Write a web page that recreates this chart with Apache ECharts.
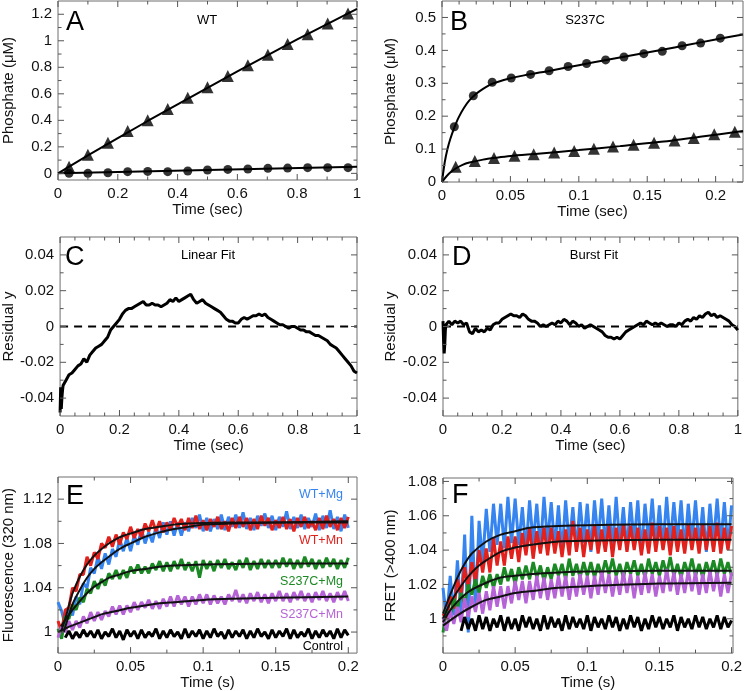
<!DOCTYPE html>
<html>
<head>
<meta charset="utf-8">
<title>Phosphate release, residuals and stopped-flow traces</title>
<script src="https://cdn.jsdelivr.net/npm/echarts@6.0.0/dist/echarts.min.js"></script>
<style>
    html, body { margin: 0; padding: 0; background: #fff; }
    #chart { width: 745px; height: 691px; }
</style>
</head>
<body>
<div id="chart"></div>
<script type="text/javascript">
    // ---------- A : WT phosphate ----------
    var aTime     = [0.037,0.1,0.167,0.233,0.3,0.367,0.434,0.5,0.568,0.635,0.702,0.768,0.835,0.902,0.97];
    var aTriangle = [0.05,0.14,0.23,0.32,0.40,0.485,0.57,0.65,0.735,0.815,0.895,0.975,1.05,1.13,1.205];
    var aCircle   = [0,0,0.005,0.013,0.015,0.013,0.018,0.025,0.03,0.033,0.038,0.04,0.043,0.043,0.043];
    var aTriFitT  = [0,0.04,0.1,0.2,0.3,0.4,0.5,0.6,0.7,0.8,0.9,1];
    var aTriFitY  = [0,0.055,0.135,0.265,0.395,0.52,0.645,0.77,0.89,1.01,1.125,1.24];
    var aCirFitT  = [0,0.04,0.2,0.5,1];
    var aCirFitY  = [0,0.003,0.01,0.025,0.05];

    // ---------- B : S237C phosphate ----------
    var bCirTime = [0.009,0.0229,0.0367,0.0506,0.0647,0.0783,0.0922,0.1057,0.1196,0.133,0.1475,0.161,0.1755,0.189,0.2034];
    var bCircle  = [0.168,0.262,0.303,0.316,0.327,0.338,0.351,0.36,0.371,0.38,0.39,0.397,0.414,0.422,0.437];
    var bTriTime = [0.01,0.024,0.038,0.053,0.067,0.082,0.0966,0.111,0.125,0.14,0.155,0.17,0.184,0.199,0.214];
    var bTriangle= [0.046,0.064,0.073,0.08,0.084,0.09,0.094,0.101,0.108,0.113,0.119,0.126,0.134,0.145,0.153];
    var bCirFitT = [0,0.002,0.004,0.006,0.009,0.012,0.016,0.02,0.025,0.03,0.035,0.04,0.05,0.06,0.08,0.1,0.12,0.14,0.16,0.18,0.2,0.22];
    var bCirFitY = [0,0.06,0.1,0.13,0.165,0.195,0.225,0.248,0.268,0.283,0.295,0.303,0.315,0.324,0.339,0.355,0.371,0.386,0.401,0.417,0.433,0.448];
    var bTriFitT = [0,0.003,0.006,0.01,0.015,0.02,0.03,0.04,0.05,0.07,0.1,0.13,0.16,0.19,0.22];
    var bTriFitY = [0,0.016,0.029,0.041,0.052,0.059,0.068,0.074,0.079,0.086,0.097,0.109,0.122,0.138,0.155];

    // ---------- C / D : residuals ----------
    var resTime = [0,0.002,0.004,0.006,0.008,
        0.01,0.02,0.03,0.04,0.05,0.06,0.07,0.08,0.09,0.1,
        0.11,0.12,0.13,0.14,0.15,0.16,0.17,0.18,0.19,0.2,
        0.21,0.22,0.23,0.24,0.25,0.26,0.27,0.28,0.29,0.3,
        0.31,0.32,0.33,0.34,0.35,0.36,0.37,0.38,0.39,0.4,
        0.41,0.42,0.43,0.44,0.45,0.46,0.47,0.48,0.49,0.5,
        0.51,0.52,0.53,0.54,0.55,0.56,0.57,0.58,0.59,0.6,
        0.61,0.62,0.63,0.64,0.65,0.66,0.67,0.68,0.69,0.7,
        0.71,0.72,0.73,0.74,0.75,0.76,0.77,0.78,0.79,0.8,
        0.81,0.82,0.83,0.84,0.85,0.86,0.87,0.88,0.89,0.9,
        0.91,0.92,0.93,0.94,0.95,0.96,0.97,0.98,0.99,1];
    var linearResidual = [-0.048,-0.034,-0.046,-0.040,-0.036,
        -0.033,-0.030,-0.027,-0.026,-0.024,-0.022,-0.021,-0.018,-0.020,-0.016,
        -0.014,-0.012,-0.011,-0.010,-0.008,-0.006,-0.002,0.000,0.002,0.004,
        0.007,0.009,0.010,0.010,0.011,0.012,0.013,0.014,0.012,0.012,
        0.013,0.012,0.012,0.011,0.012,0.013,0.015,0.014,0.016,0.014,
        0.015,0.016,0.017,0.018,0.015,0.013,0.014,0.015,0.013,0.012,
        0.011,0.010,0.009,0.008,0.006,0.004,0.003,0.003,0.002,0.002,
        0.004,0.005,0.004,0.005,0.006,0.006,0.007,0.006,0.007,0.005,
        0.004,0.003,0.002,0.001,0.001,0.000,-0.001,0.000,0.000,-0.001,
        -0.002,-0.002,-0.003,-0.003,-0.004,-0.005,-0.005,-0.006,-0.007,-0.008,
        -0.010,-0.011,-0.012,-0.014,-0.016,-0.018,-0.020,-0.022,-0.025,-0.026];
    var burstResidual = [0.003,-0.008,-0.015,-0.010,-0.002,
        0.001,0.003,0.001,0.003,0.002,0.003,0.001,0.002,-0.003,-0.004,
        -0.001,-0.003,-0.002,-0.003,-0.001,-0.002,0.001,0.002,0.002,0.004,
        0.005,0.006,0.007,0.006,0.006,0.005,0.007,0.006,0.004,0.003,
        0.003,0.002,0.000,0.001,0.000,0.001,0.002,0.001,0.003,0.002,
        0.004,0.003,0.001,0.003,0.002,0.000,0.001,-0.001,0.000,0.001,
        0.000,-0.001,-0.002,-0.003,-0.005,-0.006,-0.006,-0.007,-0.006,-0.007,
        -0.005,-0.003,-0.002,-0.001,0.000,0.001,0.002,0.001,0.003,0.002,
        0.001,0.002,0.001,0.002,0.001,0.000,0.001,0.001,0.000,0.002,
        0.001,0.003,0.004,0.003,0.005,0.004,0.006,0.005,0.007,0.008,
        0.006,0.007,0.005,0.006,0.005,0.004,0.003,0.001,0.000,-0.002];
    var zeroLineT = [0, 1];
    var zeroLineY = [0, 0];

    // ---------- E / F : stopped-flow traces ----------
    var traceTime = [0,0.0025,0.005,0.0075,0.01,0.0125,0.015,0.0175,0.02,0.0225,
        0.025,0.0275,0.03,0.0325,0.035,0.0375,0.04,0.0425,0.045,0.0475,
        0.05,0.0525,0.055,0.0575,0.06,0.0625,0.065,0.0675,0.07,0.0725,
        0.075,0.0775,0.08,0.0825,0.085,0.0875,0.09,0.0925,0.095,0.0975,
        0.1,0.1025,0.105,0.1075,0.11,0.1125,0.115,0.1175,0.12,0.1225,
        0.125,0.1275,0.13,0.1325,0.135,0.1375,0.14,0.1425,0.145,0.1475,
        0.15,0.1525,0.155,0.1575,0.16,0.1625,0.165,0.1675,0.17,0.1725,
        0.175,0.1775,0.18,0.1825,0.185,0.1875,0.19,0.1925,0.195,0.1975,
        0.2];

    var eWtMg = [1.027,1.019,1.006,1.022,1.015,1.032,1.025,1.044,1.040,1.058,
        1.053,1.068,1.057,1.071,1.061,1.075,1.068,1.084,1.073,1.085,
        1.073,1.087,1.079,1.093,1.080,1.090,1.081,1.095,1.085,1.099,
        1.088,1.100,1.087,1.099,1.087,1.099,1.091,1.103,1.094,1.106,
        1.091,1.103,1.091,1.102,1.093,1.106,1.092,1.104,1.095,1.106,
        1.094,1.108,1.093,1.103,1.092,1.105,1.096,1.107,1.094,1.105,
        1.092,1.104,1.095,1.109,1.093,1.104,1.094,1.106,1.093,1.103,
        1.095,1.107,1.092,1.105,1.094,1.110,1.093,1.104,1.091,1.106,
        1.094];
    var eWtMn = [1.010,1.001,1.020,1.022,1.040,1.037,1.052,1.052,1.068,1.060,
        1.072,1.066,1.080,1.076,1.086,1.077,1.088,1.079,1.090,1.084,
        1.095,1.085,1.093,1.086,1.098,1.091,1.101,1.091,1.100,1.090,
        1.099,1.092,1.103,1.095,1.102,1.092,1.103,1.094,1.105,1.093,
        1.101,1.092,1.102,1.095,1.104,1.093,1.100,1.091,1.103,1.094,
        1.104,1.095,1.103,1.092,1.102,1.093,1.105,1.096,1.103,1.092,
        1.101,1.094,1.104,1.093,1.102,1.091,1.103,1.095,1.104,1.094,
        1.100,1.092,1.103,1.093,1.105,1.095,1.102,1.092,1.103,1.094,
        1.104];
    var eS237CMg = [1.003,0.994,1.014,1.012,1.025,1.020,1.031,1.027,1.039,1.035,
        1.046,1.039,1.048,1.042,1.053,1.048,1.056,1.048,1.056,1.049,
        1.059,1.053,1.061,1.053,1.059,1.053,1.062,1.056,1.064,1.055,
        1.063,1.055,1.064,1.057,1.066,1.056,1.063,1.055,1.064,1.049,
        1.065,1.057,1.064,1.055,1.065,1.058,1.066,1.057,1.063,1.056,
        1.065,1.058,1.067,1.056,1.064,1.057,1.066,1.058,1.065,1.058,
        1.065,1.058,1.067,1.059,1.066,1.057,1.065,1.058,1.068,1.059,
        1.066,1.057,1.065,1.058,1.067,1.059,1.066,1.057,1.065,1.058,
        1.067];
    var eS237CMn = [0.995,1.005,1.000,1.010,1.002,1.010,1.004,1.014,1.008,1.018,
        1.010,1.018,1.011,1.019,1.014,1.023,1.016,1.024,1.016,1.024,
        1.018,1.027,1.020,1.027,1.022,1.029,1.021,1.028,1.021,1.030,
        1.023,1.032,1.023,1.033,1.025,1.032,1.023,1.032,1.025,1.034,
        1.026,1.034,1.025,1.033,1.026,1.032,1.025,1.034,1.028,1.038,
        1.027,1.034,1.026,1.035,1.028,1.036,1.027,1.034,1.026,1.035,
        1.028,1.037,1.028,1.035,1.027,1.036,1.029,1.037,1.028,1.035,
        1.027,1.036,1.029,1.037,1.028,1.035,1.027,1.036,1.029,1.037,
        1.028];
    var eControl = [null,null,0.995,1.001,0.994,1.000,0.995,1.002,0.996,1.001,
        0.995,1.002,0.994,1.000,0.996,1.003,0.995,1.001,0.993,1.002,
        0.996,1.001,0.994,1.002,0.995,1.000,0.996,1.003,0.994,1.001,
        0.995,1.002,0.996,1.000,0.994,1.003,0.995,1.001,0.996,1.002,
        0.994,1.001,0.995,1.003,0.996,1.000,0.994,1.002,0.995,1.001,
        0.996,1.002,0.994,1.001,0.995,1.003,0.996,1.000,0.994,1.002,
        0.995,1.001,0.996,1.003,0.994,1.002,0.995,1.000,0.996,1.003,
        0.994,1.001,0.995,1.002,0.996,1.001,0.994,1.003,0.995,1.002,
        0.997];

    var fWtMg = [1.018,1.000,1.025,1.002,1.034,1.003,1.049,0.992,1.060,1.005,
        1.057,1.033,1.064,1.039,1.067,1.043,1.067,1.041,1.071,1.044,
        1.070,1.043,1.065,1.039,1.069,1.044,1.067,1.040,1.071,1.045,
        1.068,1.041,1.066,1.038,1.069,1.043,1.065,1.040,1.068,1.044,
        1.067,1.039,1.069,1.045,1.070,1.042,1.066,1.041,1.071,1.043,
        1.065,1.040,1.068,1.044,1.069,1.039,1.067,1.045,1.070,1.042,
        1.066,1.041,1.071,1.043,1.068,1.045,1.069,1.040,1.067,1.044,
        1.069,1.042,1.065,1.039,1.067,1.044,1.070,1.043,1.068,1.041,
        1.066];
    var fWtMn = [1.003,1.000,1.013,1.006,1.023,1.014,1.030,1.018,1.033,1.021,
        1.040,1.027,1.041,1.027,1.047,1.031,1.045,1.031,1.048,1.035,
        1.048,1.033,1.050,1.037,1.053,1.035,1.051,1.038,1.053,1.037,
        1.053,1.038,1.051,1.036,1.052,1.037,1.057,1.039,1.053,1.036,
        1.052,1.040,1.055,1.038,1.052,1.039,1.054,1.036,1.053,1.040,
        1.055,1.039,1.054,1.040,1.053,1.037,1.052,1.038,1.056,1.039,
        1.054,1.040,1.053,1.037,1.054,1.039,1.052,1.038,1.055,1.040,
        1.053,1.038,1.055,1.040,1.054,1.039,1.056,1.038,1.053,1.040,
        1.054];
    var fS237CMg = [0.992,1.005,1.001,1.012,1.006,1.015,1.009,1.020,1.014,1.023,
        1.015,1.025,1.018,1.026,1.018,1.026,1.020,1.030,1.022,1.029,
        1.020,1.030,1.023,1.031,1.023,1.033,1.024,1.031,1.022,1.030,
        1.023,1.032,1.025,1.032,1.023,1.035,1.025,1.032,1.024,1.033,
        1.025,1.033,1.024,1.032,1.025,1.034,1.026,1.035,1.025,1.032,
        1.024,1.033,1.026,1.034,1.025,1.032,1.024,1.035,1.026,1.033,
        1.025,1.034,1.026,1.036,1.025,1.032,1.024,1.033,1.026,1.035,
        1.025,1.032,1.024,1.033,1.026,1.034,1.025,1.035,1.026,1.033,
        1.025];
    var fS237CMn = [1.001,0.993,1.005,0.997,1.007,0.998,1.012,1.001,1.013,1.004,
        1.015,1.003,1.016,1.005,1.019,1.007,1.019,1.006,1.019,1.009,
        1.022,1.011,1.022,1.009,1.022,1.011,1.025,1.012,1.024,1.011,
        1.023,1.012,1.025,1.013,1.025,1.011,1.024,1.013,1.026,1.014,
        1.025,1.012,1.025,1.014,1.028,1.015,1.026,1.013,1.025,1.014,
        1.027,1.015,1.026,1.012,1.025,1.014,1.027,1.015,1.026,1.013,
        1.025,1.015,1.029,1.016,1.027,1.014,1.026,1.015,1.028,1.016,
        1.027,1.014,1.026,1.015,1.028,1.016,1.027,1.013,1.026,1.015,
        1.027];
    var fControl = [null,null,null,null,null,0.993,1.001,0.994,1.000,0.993,
        1.002,0.994,1.001,0.993,1.000,0.995,1.002,0.993,1.001,0.994,
        1.000,0.993,1.002,0.995,1.001,0.994,1.000,0.993,1.002,0.994,
        1.001,0.995,1.000,0.993,1.002,0.994,1.001,0.995,1.000,0.994,
        1.002,0.993,1.001,0.995,1.000,0.994,1.002,0.995,1.001,0.993,
        1.000,0.994,1.002,0.995,1.001,0.993,1.000,0.994,1.002,0.995,
        1.001,0.994,1.000,0.995,1.002,0.993,1.001,0.995,1.000,0.994,
        1.002,0.995,1.001,0.994,1.000,0.995,1.002,0.994,1.001,0.995,
        0.999];

    // fitted curves, [time, value]
    var eFitWtMg    = [[0.004,1.0],[0.01,1.025],[0.015,1.038],[0.02,1.049],[0.025,1.057],[0.03,1.063],[0.035,1.068],[0.04,1.073],[0.045,1.077],[0.05,1.08],[0.06,1.086],[0.07,1.09],[0.08,1.093],[0.09,1.095],[0.1,1.097],[0.12,1.098],[0.15,1.099],[0.2,1.1]];
    var eFitWtMn    = [[0.002,1.0],[0.005,1.012],[0.0075,1.024],[0.01,1.035],[0.015,1.05],[0.02,1.061],[0.025,1.069],[0.03,1.075],[0.035,1.08],[0.04,1.084],[0.045,1.087],[0.05,1.089],[0.06,1.093],[0.07,1.095],[0.08,1.097],[0.09,1.098],[0.1,1.0985],[0.12,1.099],[0.15,1.099],[0.2,1.099]];
    var eFitS237CMg = [[0.002,1.005],[0.005,1.011],[0.01,1.02],[0.015,1.028],[0.02,1.035],[0.025,1.041],[0.03,1.045],[0.035,1.049],[0.04,1.051],[0.05,1.055],[0.06,1.057],[0.07,1.059],[0.08,1.06],[0.1,1.061],[0.15,1.062],[0.2,1.062]];
    var eFitS237CMn = [[0,1.0],[0.01,1.006],[0.02,1.011],[0.03,1.016],[0.04,1.019],[0.05,1.022],[0.06,1.024],[0.07,1.026],[0.08,1.027],[0.1,1.029],[0.12,1.03],[0.15,1.031],[0.2,1.032]];
    var fFitWtMg    = [[0,1.003],[0.005,1.014],[0.01,1.024],[0.015,1.032],[0.02,1.038],[0.03,1.045],[0.04,1.049],[0.05,1.051],[0.06,1.053],[0.08,1.054],[0.1,1.0545],[0.15,1.055],[0.2,1.055]];
    var fFitWtMn    = [[0,1.0],[0.005,1.009],[0.01,1.016],[0.015,1.022],[0.02,1.027],[0.025,1.031],[0.03,1.034],[0.04,1.039],[0.05,1.0415],[0.06,1.043],[0.08,1.045],[0.1,1.0455],[0.15,1.046],[0.2,1.046]];
    var fFitS237CMg = [[0,0.998],[0.005,1.005],[0.01,1.01],[0.015,1.014],[0.02,1.017],[0.03,1.021],[0.04,1.024],[0.05,1.025],[0.06,1.026],[0.08,1.027],[0.1,1.0275],[0.15,1.028],[0.2,1.028]];
    var fFitS237CMn = [[0,0.996],[0.01,1.002],[0.02,1.007],[0.03,1.011],[0.04,1.013],[0.05,1.015],[0.06,1.016],[0.08,1.018],[0.1,1.019],[0.15,1.0205],[0.2,1.021]];

    // tick positions
    var ticksA = { xMajor: [0,0.2,0.4,0.6,0.8,1], xMinor: [0.1,0.3,0.5,0.7,0.9],
                   yMajor: [0,0.2,0.4,0.6,0.8,1,1.2], yMinor: [0.1,0.3,0.5,0.7,0.9,1.1] };
    var ticksB = { xMajor: [0,0.05,0.1,0.15,0.2], xMinor: [0.0125,0.025,0.0375,0.0625,0.075,0.0875,0.1125,0.125,0.1375,0.1625,0.175,0.1875,0.2125],
                   yMajor: [0,0.1,0.2,0.3,0.4,0.5], yMinor: [0.05,0.15,0.25,0.35,0.45] };
    var ticksRes = { xMajor: [0,0.2,0.4,0.6,0.8,1], xMinor: [0.05,0.1,0.15,0.25,0.3,0.35,0.45,0.5,0.55,0.65,0.7,0.75,0.85,0.9,0.95],
                     yMajor: [-0.04,-0.02,0,0.02,0.04], yMinor: [-0.03,-0.01,0.01,0.03] };
    var ticksE = { xMajor: [0,0.05,0.1,0.15,0.2], xMinor: [0.025,0.075,0.125,0.175],
                   yMajor: [1,1.04,1.08,1.12], yMinor: [1.02,1.06,1.1] };
    var ticksF = { xMajor: [0,0.05,0.1,0.15,0.2], xMinor: [0.025,0.075,0.125,0.175],
                   yMajor: [1,1.02,1.04,1.06,1.08], yMinor: [0.99,1.01,1.03,1.05,1.07] };

    var colWtMg = '#3584f0', colWtMn = '#e2211c', colMg = '#1c8a24', colMn = '#b563d6';

    var FONT = "'Liberation Sans', Arial, Helvetica, sans-serif";
    var FRAME = '#6e6e6e';
    var TICK = '#555';
    var grids = [], xAxes = [], yAxes = [], series = [];

    function pairs(xs, ys) {
        var out = [];
        for (var i = 0; i < xs.length; i++) {
            if (ys[i] !== null && ys[i] !== undefined) out.push([xs[i], ys[i]]);
        }
        return out;
    }
    function fmt(v) { return String(parseFloat(Number(v).toFixed(4))); }

    function mainAxis(g, pos, range, major, name, gap) {
        return {
            type: 'value', gridIndex: g, position: pos, min: range[0], max: range[1],
            axisLine: { show: false, onZero: false },
            axisTick: { show: false },
            axisLabel: { show: true, customValues: major.slice(), formatter: fmt, margin: 6,
                         fontSize: 15, color: '#111', fontFamily: FONT },
            splitLine: { show: false },
            name: name, nameLocation: 'middle', nameGap: gap,
            nameTextStyle: { fontSize: 15, color: '#111', fontFamily: FONT }
        };
    }

    // inward tick marks on all four sides, placed through the axes' own scales
    function tickSeries(p, xr, yr, ticks) {
        var data = [];
        ticks.xMajor.forEach(function (v) { data.push([0, v, 6]); });
        ticks.xMinor.forEach(function (v) { data.push([0, v, 3.5]); });
        ticks.yMajor.forEach(function (v) { data.push([1, v, 6]); });
        ticks.yMinor.forEach(function (v) { data.push([1, v, 3.5]); });
        series.push({
            type: 'custom', xAxisIndex: p.x, yAxisIndex: p.y, data: data,
            silent: true, clip: false, z: 4,
            renderItem: function (params, api) {
                var kind = api.value(0), v = api.value(1), len = api.value(2);
                var cs = params.coordSys;
                var st = { stroke: TICK, lineWidth: 1 };
                if (kind === 0) {
                    var x = api.coord([v, yr[0]])[0];
                    return { type: 'group', children: [
                        { type: 'line', shape: { x1: x, y1: cs.y + cs.height, x2: x, y2: cs.y + cs.height - len }, style: st },
                        { type: 'line', shape: { x1: x, y1: cs.y, x2: x, y2: cs.y + len }, style: st }
                    ] };
                }
                var y = api.coord([xr[0], v])[1];
                return { type: 'group', children: [
                    { type: 'line', shape: { x1: cs.x, y1: y, x2: cs.x + len, y2: y }, style: st },
                    { type: 'line', shape: { x1: cs.x + cs.width, y1: y, x2: cs.x + cs.width - len, y2: y }, style: st }
                ] };
            }
        });
    }

    function addPanel(box, xr, yr, ticks, xName, yName, yGap) {
        var g = grids.length;
        grids.push({ left: box[0], top: box[1], width: box[2], height: box[3],
                     show: true, borderColor: FRAME, borderWidth: 1, backgroundColor: 'rgba(0,0,0,0)' });
        xAxes.push(mainAxis(g, 'bottom', xr, ticks.xMajor, xName, 20));
        yAxes.push(mainAxis(g, 'left', yr, ticks.yMajor, yName, yGap));
        var p = { x: xAxes.length - 1, y: yAxes.length - 1 };
        tickSeries(p, xr, yr, ticks);
        return p;
    }
    function line(p, data, color, width, extra) {
        var s = { type: 'line', xAxisIndex: p.x, yAxisIndex: p.y, data: data, showSymbol: false,
                  silent: true, lineStyle: { color: color, width: width } };
        for (var k in extra) s[k] = extra[k];
        series.push(s);
    }
    function dots(p, data, symbol, size) {
        series.push({ type: 'scatter', xAxisIndex: p.x, yAxisIndex: p.y, data: data, symbol: symbol,
                      symbolSize: size, silent: true, itemStyle: { color: '#000' } });
    }

    // panels
    var pA = addPanel([57, 1, 300, 179], [0, 1], [-0.05, 1.3], ticksA, 'Time (sec)', 'Phosphate (\u03bcM)', 42);
    var pB = addPanel([442, 1, 301, 181], [0, 0.22], [0, 0.55], ticksB, 'Time (sec)', 'Phosphate (\u03bcM)', 44);
    var pC = addPanel([57, 237, 300, 179], [0, 1], [-0.05, 0.05], ticksRes, 'Time (sec)', 'Residual y', 42);
    var pD = addPanel([443, 237, 301, 179], [0, 1], [-0.05, 0.05], ticksRes, 'Time (sec)', 'Residual y', 45);
    var pE = addPanel([57, 477, 300, 178], [0, 0.206], [0.981, 1.14], ticksE, 'Time (s)', 'Fluorescence (320 nm)', 42);
    var pF = addPanel([443, 478, 291, 178], [0, 0.201], [0.98, 1.082], ticksF, 'Time (s)', 'FRET (>400 nm)', 45);

    // A
    line(pA, pairs(aTriFitT, aTriFitY), '#000', 2);
    line(pA, pairs(aCirFitT, aCirFitY), '#000', 2);
    dots(pA, pairs(aTime, aTriangle), 'triangle', 12);
    dots(pA, pairs(aTime, aCircle), 'circle', 9);
    // B
    line(pB, pairs(bCirFitT, bCirFitY), '#000', 2, { smooth: 0.3 });
    line(pB, pairs(bTriFitT, bTriFitY), '#000', 2, { smooth: 0.3 });
    dots(pB, pairs(bTriTime, bTriangle), 'triangle', 12);
    dots(pB, pairs(bCirTime, bCircle), 'circle', 9);
    // C, D
    line(pC, pairs(zeroLineT, zeroLineY), '#000', 2, { lineStyle: { color: '#000', width: 2, type: [8, 6] } });
    line(pC, pairs(resTime, linearResidual), '#000', 3);
    line(pD, pairs(zeroLineT, zeroLineY), '#000', 2, { lineStyle: { color: '#000', width: 2, type: [8, 6] } });
    line(pD, pairs(resTime, burstResidual), '#000', 3);
    // E
    var TW = 3;
    line(pE, pairs(traceTime, eWtMg), colWtMg, TW);
    line(pE, pairs(traceTime, eWtMn), colWtMn, TW);
    line(pE, pairs(traceTime, eS237CMg), colMg, TW);
    line(pE, pairs(traceTime, eS237CMn), colMn, TW);
    line(pE, pairs(traceTime, eControl), '#000', TW);
    [eFitWtMg, eFitWtMn, eFitS237CMg, eFitS237CMn].forEach(function (d) {
        line(pE, d, '#111', 2, { smooth: 0.3 });
    });
    // F
    line(pF, pairs(traceTime, fWtMg), colWtMg, TW);
    line(pF, pairs(traceTime, fWtMn), colWtMn, TW);
    line(pF, pairs(traceTime, fS237CMg), colMg, TW);
    line(pF, pairs(traceTime, fS237CMn), colMn, TW);
    line(pF, pairs(traceTime, fControl), '#000', TW);
    [fFitWtMg, fFitWtMn, fFitS237CMg, fFitS237CMn].forEach(function (d) {
        line(pF, d, '#111', 2, { smooth: 0.3 });
    });

    function txt(s, x, y, size, align, color) {
        return { type: 'text', x: x, y: y, silent: true, z: 100,
                 style: { text: s, fontSize: size, fontFamily: FONT, fill: color || '#000',
                          align: align || 'left', verticalAlign: 'middle' } };
    }
    var labels = [
        txt('A', 66, 23, 27), txt('B', 450, 23, 27), txt('C', 65, 258, 27),
        txt('D', 452, 258, 27), txt('E', 66, 497, 27), txt('F', 452, 496, 27),
        txt('WT', 207, 20, 13, 'center'), txt('S237C', 585, 20, 13, 'center'),
        txt('Linear Fit', 208, 255, 13, 'center'), txt('Burst Fit', 594, 255, 13, 'center'),
        txt('WT+Mg', 343, 495, 12.5, 'right', colWtMg), txt('WT+Mn', 343, 541, 12.5, 'right', colWtMn),
        txt('S237C+Mg', 343, 582, 12.5, 'right', colMg), txt('S237C+Mn', 343, 615, 12.5, 'right', colMn),
        txt('Control', 343, 647, 12.5, 'right', '#000')
    ];

    var chart = echarts.init(document.getElementById('chart'));
    chart.setOption({
        animation: false,
        backgroundColor: '#fff',
        grid: grids,
        xAxis: xAxes,
        yAxis: yAxes,
        series: series,
        graphic: labels
    });
</script>
</body>
</html>
